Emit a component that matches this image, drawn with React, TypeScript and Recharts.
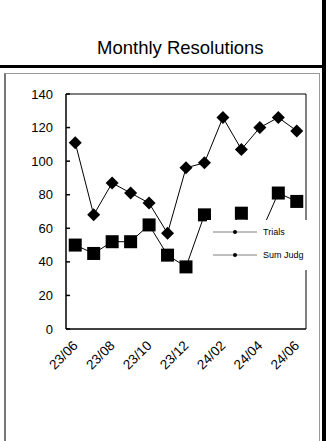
import { Legend, Line, LineChart, XAxis, YAxis } from "recharts"

const months = ["23/06", "23/07", "23/08", "23/09", "23/10", "23/11", "23/12", "24/01", "24/02", "24/03", "24/04", "24/05", "24/06"]
const trials = [50, 45, 52, 52, 62, 44, 37, 68, 55, 69, 56, 81, 76]
const sumJudg = [111, 68, 87, 81, 75, 57, 96, 99, 126, 107, 120, 126, 118]
const yTicks = [0, 20, 40, 60, 80, 100, 120, 140]
const labelTicks = [0, 2, 4, 6, 8, 10, 12]
const seriesNames = ["Trials", "Sum Judg"]

const boundaryTicks = months.map((_, i) => i - 0.5).concat(months.length - 0.5)
const xDomain = [-0.5, months.length - 0.5]

const data = months.map((m, i) => ({ idx: i, month: m, trials: trials[i], sumJudg: sumJudg[i] }))

const font = '"Liberation Sans", Arial, sans-serif'

const Square = (props: any) => {
  const { cx, cy, index } = props
  if (cx == null || cy == null) return <g key={index} />
  return <rect key={index} x={cx - 6.5} y={cy - 6.5} width={13} height={13} fill="#000" />
}

const Diamond = (props: any) => {
  const { cx, cy, index } = props
  if (cx == null || cy == null) return <g key={index} />
  const r = 6.5
  return <polygon key={index} points={`${cx},${cy - r} ${cx + r},${cy} ${cx},${cy + r} ${cx - r},${cy}`} fill="#000" />
}

// rotated month label, centred vertically on its anchor like Excel does
const MonthTick = (props: any) => {
  const { x, y, payload } = props
  return (
    <text
      x={x}
      y={y}
      dy="0.355em"
      textAnchor="end"
      transform={`rotate(-45, ${x}, ${y})`}
      fill="#000"
      fontSize={13.5}
      fontFamily={font}
    >
      {months[payload.value]}
    </text>
  )
}

const LegendBox = (props: any) => {
  const items = [...(props.payload || [])].sort(
    (a: any, b: any) => seriesNames.indexOf(a.value) - seriesNames.indexOf(b.value)
  )
  return (
    <div style={{ fontFamily: font, fontSize: 9, color: "#000", paddingLeft: 6 }}>
      {items.map((entry: any) => (
        <div key={entry.value} style={{ display: "flex", alignItems: "center", height: 23 }}>
          <svg width={44} height={6}>
            <line x1={0} y1={3} x2={44} y2={3} stroke="#808080" strokeWidth={1} />
            <circle cx={22} cy={3} r={2} fill="#000" />
          </svg>
          <span style={{ marginLeft: 6 }}>{entry.value}</span>
        </div>
      ))}
    </div>
  )
}

export default function App() {
  return (
    <div style={{ position: "absolute", left: 0, top: 0, width: 328, height: 441, background: "#fff", overflow: "hidden" }}>
      <div style={{ position: "absolute", left: 97, top: 39, fontFamily: font, fontSize: 18.5, lineHeight: 1, color: "#000", whiteSpace: "nowrap" }}>
        Monthly Resolutions
      </div>
      <div style={{ position: "absolute", left: 0, top: 65, width: 322, height: 3, background: "#000" }} />
      <div style={{ position: "absolute", left: 322, top: 0, width: 4, height: 441, background: "#000" }} />
      <div
        style={{
          position: "absolute",
          left: 4,
          top: 73,
          width: 316,
          height: 400,
          boxSizing: "border-box",
          borderTop: "1px solid #999",
          borderLeft: "2px solid #777",
          borderRight: "1px solid #999",
        }}
      />
      <div style={{ position: "absolute", left: 0, top: 0 }}>
        <LineChart width={322} height={441} data={data} margin={{ top: 93, right: 15, bottom: 52, left: 0 }}>
          <XAxis
            xAxisId="a"
            dataKey="idx"
            type="number"
            domain={xDomain}
            allowDataOverflow
            ticks={boundaryTicks}
            interval={0}
            tick={false}
            tickSize={-4}
            height={1}
            stroke="#000"
            strokeWidth={1.5}
          />
          <XAxis
            xAxisId="b"
            dataKey="idx"
            type="number"
            domain={xDomain}
            allowDataOverflow
            ticks={labelTicks}
            interval={0}
            tick={MonthTick}
            tickLine={false}
            axisLine={false}
            tickSize={3}
            tickMargin={10}
            height={59}
          />
          <XAxis
            xAxisId="top"
            orientation="top"
            dataKey="idx"
            type="number"
            domain={xDomain}
            allowDataOverflow
            tick={false}
            tickLine={false}
            height={1}
            stroke="#000"
          />
          <YAxis
            yAxisId="l"
            domain={[0, 140]}
            allowDataOverflow
            ticks={yTicks}
            interval={0}
            width={66}
            tickSize={-4}
            tickMargin={17}
            stroke="#000"
            strokeWidth={1.5}
            tick={{ fill: "#000", fontSize: 13, fontFamily: font }}
          />
          <YAxis
            yAxisId="r"
            orientation="right"
            domain={[0, 140]}
            allowDataOverflow
            width={1}
            tick={false}
            tickLine={false}
            stroke="#000"
          />
          <Legend
            layout="vertical"
            align="center"
            verticalAlign="middle"
            content={LegendBox}
            wrapperStyle={{ left: 207, top: 220, width: 102, height: 50, background: "#fff" }}
          />
          <Line
            xAxisId="b"
            yAxisId="l"
            dataKey="trials"
            name="Trials"
            stroke="#000"
            strokeWidth={1}
            dot={Square}
            activeDot={false}
            isAnimationActive={false}
          />
          <Line
            xAxisId="b"
            yAxisId="l"
            dataKey="sumJudg"
            name="Sum Judg"
            stroke="#000"
            strokeWidth={1}
            dot={Diamond}
            activeDot={false}
            isAnimationActive={false}
          />
        </LineChart>
      </div>
    </div>
  )
}
